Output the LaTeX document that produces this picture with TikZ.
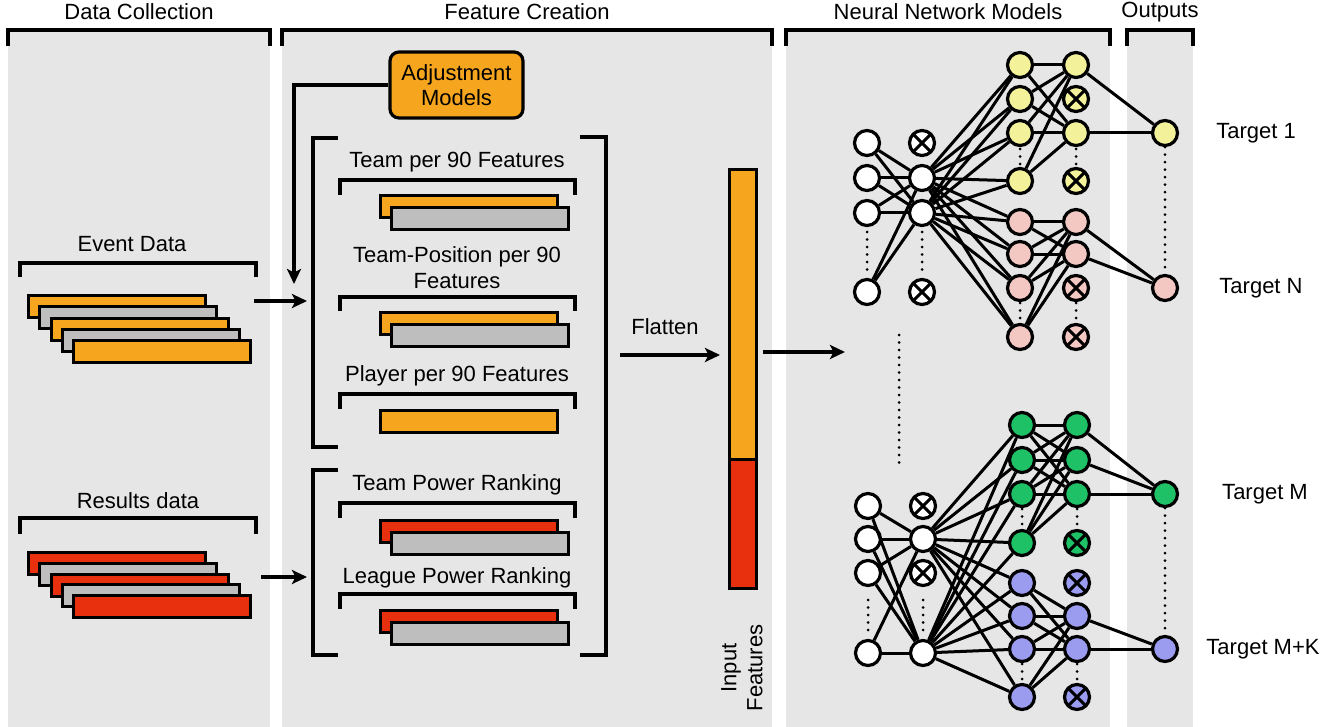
\documentclass[tikz,border=0pt]{standalone}
\usepackage{fontspec}
\setmainfont{Liberation Sans}
\usetikzlibrary{arrows.meta}
\definecolor{panel}{HTML}{E6E6E6}
\definecolor{org}{HTML}{F6A61E}
\definecolor{rd}{HTML}{E8300E}
\definecolor{gbar}{HTML}{BEBEBE}
\definecolor{yel}{HTML}{F3F29A}
\definecolor{pnk}{HTML}{F3C8C3}
\definecolor{grn}{HTML}{1EC166}
\definecolor{blu}{HTML}{9B9BF0}
\begin{document}
\begin{tikzpicture}[x=1pt,y=-1pt,font=\fontsize{22}{26}\selectfont,
  lbl/.style={inner sep=0pt,anchor=center,align=center},
  brk/.style={line width=3.6pt},
  barbox/.style={draw=black,line width=3.2pt,anchor=north west,inner sep=0pt,minimum height=22pt},
  arr/.style={line width=3.2pt,-{Stealth[length=15pt,width=14pt,inset=3.5pt]}},
  conn/.style={line width=3pt},
  neuron/.style={circle,draw=black,line width=3.2pt,minimum size=25pt,inner sep=0pt,fill=white},
  drop/.style={neuron,path picture={
     \draw[line width=3pt] (path picture bounding box.north west)--(path picture bounding box.south east);
     \draw[line width=3pt] (path picture bounding box.north east)--(path picture bounding box.south west);}},
  dots/.style={line width=3pt,dash pattern=on 0pt off 7.5pt,line cap=round}
]
\useasboundingbox (0,0) rectangle (1329,727);
\fill[white] (0,0) rectangle (1329,727);
% panels
\fill[panel] (8,31) rectangle (270,727);
\fill[panel] (282,31) rectangle (772,727);
\fill[panel] (786,31) rectangle (1110,727);
\fill[panel] (1127,31) rectangle (1193,727);
\draw[brk] (8,46) -- (8,30) -- (270,30) -- (270,46);
\draw[brk] (282,46) -- (282,30) -- (772,30) -- (772,46);
\draw[brk] (786,46) -- (786,30) -- (1110,30) -- (1110,46);
\draw[brk] (1127,46) -- (1127,30) -- (1193,30) -- (1193,46);
\node[lbl] (tDC) at (139,12) {Data Collection};
\node[lbl] (tFC) at (527,12) {Feature Creation};
\node[lbl] (tNN) at (948,12) {Neural Network Models};
\node[lbl] (tOut) at (1160,12) {Outputs};

% ---------------- Data collection
\node[lbl] (tEv) at (132,244) {Event Data};
\draw[brk] (20,277) -- (20,263) -- (256,263) -- (256,277);
\node[barbox,fill=org,minimum width=177pt] (e1) at (27,294) {};
\node[barbox,fill=gbar,minimum width=177pt] (e2) at (38.25,305.25) {};
\node[barbox,fill=org,minimum width=177pt] (e3) at (49.5,316.5) {};
\node[barbox,fill=gbar,minimum width=177pt] (e4) at (60.75,327.75) {};
\node[barbox,fill=org,minimum width=177pt] (e5) at (72,339) {};

\node[lbl] (tRes) at (138,501) {Results data};
\draw[brk] (20,534) -- (20,518) -- (256,518) -- (256,534);
\node[barbox,fill=rd,minimum width=177pt] (r1) at (27,551) {};
\node[barbox,fill=gbar,minimum width=177pt] (r2) at (38.25,561.75) {};
\node[barbox,fill=rd,minimum width=177pt] (r3) at (49.5,572.5) {};
\node[barbox,fill=gbar,minimum width=177pt] (r4) at (60.75,583.25) {};
\node[barbox,fill=rd,minimum width=177pt] (r5) at (72,594) {};

\coordinate (evout) at (254,301);
\coordinate (g1in) at (307,301);
\coordinate (resout) at (261,577);
\coordinate (g2in) at (307,577);
\draw[arr] (evout) -- (g1in);
\draw[arr] (resout) -- (g2in);

% ---------------- Feature creation
\node[draw=black,line width=3.2pt,fill=org,rounded corners=9pt,minimum width=133pt,minimum height=66pt,inner sep=0pt,align=center,font=\fontsize{22}{25}\selectfont] (adj) at (456.5,85) {Adjustment\\Models};
\coordinate (adjin) at (294,284);
\draw[arr] (adj.west) -| (adjin);

% group brackets
\draw[brk] (338,138) -- (313,138) -- (313,447) -- (338,447);
\draw[brk] (338,470) -- (313,470) -- (313,655) -- (338,655);
\draw[brk] (580,137) -- (606,137) -- (606,655) -- (580,655);

\node[lbl] (tT90) at (457,162) {Team per 90 Features};
\draw[brk] (340,195) -- (340,180) -- (575,180) -- (575,195);
\node[barbox,fill=org,minimum width=177pt] (f1a) at (379,194) {};
\node[barbox,fill=gbar,minimum width=177pt] (f1b) at (390,206) {};

\node[lbl] (tTP) at (457,268) {Team-Position per 90\\Features};
\draw[brk] (340,311) -- (340,297) -- (575,297) -- (575,311);
\node[barbox,fill=org,minimum width=177pt] (f2a) at (379,311) {};
\node[barbox,fill=gbar,minimum width=177pt] (f2b) at (390,322.5) {};

\node[lbl] (tP90) at (457,376) {Player per 90 Features};
\draw[brk] (340,409) -- (340,394) -- (575,394) -- (575,409);
\node[barbox,fill=org,minimum width=177pt] (f3a) at (379,408.5) {};

\node[lbl] (tTPR) at (457,485) {Team Power Ranking};
\draw[brk] (340,518) -- (340,503) -- (575,503) -- (575,518);
\node[barbox,fill=rd,minimum width=177pt] (f4a) at (379,519) {};
\node[barbox,fill=gbar,minimum width=177pt] (f4b) at (390,530.5) {};

\node[lbl] (tLPR) at (457,578) {League Power Ranking};
\draw[brk] (340,609) -- (340,594) -- (575,594) -- (575,609);
\node[barbox,fill=rd,minimum width=177pt] (f5a) at (379,609) {};
\node[barbox,fill=gbar,minimum width=177pt] (f5b) at (390,620.5) {};

% flatten
\node[lbl] (tFl) at (665,327) {Flatten};
\coordinate (flin) at (620,355);
\coordinate (flout) at (720,355);
\draw[arr] (flin) -- (flout);
\node[draw=black,line width=3.2pt,fill=org,anchor=north west,inner sep=0pt,minimum width=27pt,minimum height=290pt] (inf) at (728,168) {};
\node[draw=black,line width=3.2pt,fill=rd,anchor=north west,inner sep=0pt,minimum width=27pt,minimum height=129pt] (inr) at (728,458) {};
\node[lbl,rotate=90] (tIF) at (742,668) {Input\\Features};
\coordinate (nnout) at (763,352);
\coordinate (nnin) at (845,352);
\draw[arr] (nnout) -- (nnin);

% ---------------- Neural networks: top
\node[neuron] (ta1) at (867,143) {};
\node[neuron] (ta2) at (867,178) {};
\node[neuron] (ta3) at (867,213) {};
\node[neuron] (ta4) at (867,292) {};
\node[drop] (tb1) at (922,143) {};
\node[neuron] (tb2) at (922,178) {};
\node[neuron] (tb3) at (922,213) {};
\node[drop] (tb4) at (922,292) {};
\node[neuron,fill=yel] (tc1) at (1020,65) {};
\node[neuron,fill=yel] (tc2) at (1020,99) {};
\node[neuron,fill=yel] (tc3) at (1020,133) {};
\node[neuron,fill=yel] (tc4) at (1020,181) {};
\node[neuron,fill=pnk] (tc5) at (1020,222) {};
\node[neuron,fill=pnk] (tc6) at (1020,254) {};
\node[neuron,fill=pnk] (tc7) at (1020,288) {};
\node[neuron,fill=pnk] (tc8) at (1020,337) {};
\node[neuron,fill=yel] (td1) at (1076,65) {};
\node[drop,fill=yel] (td2) at (1076,99) {};
\node[neuron,fill=yel] (td3) at (1076,133) {};
\node[drop,fill=yel] (td4) at (1076,181) {};
\node[neuron,fill=pnk] (td5) at (1076,222) {};
\node[neuron,fill=pnk] (td6) at (1076,254) {};
\node[drop,fill=pnk] (td7) at (1076,288) {};
\node[drop,fill=pnk] (td8) at (1076,337) {};
\node[neuron,fill=yel] (o1) at (1165,133) {};
\node[neuron,fill=pnk] (oN) at (1165,288) {};

\foreach \a in {ta1,ta2,ta3,ta4} \foreach \b in {tb2,tb3} \draw[conn] (\a) -- (\b);
\foreach \a in {tb2,tb3} \foreach \b in {tc1,tc2,tc3,tc4,tc5,tc6,tc7,tc8} \draw[conn] (\a) -- (\b);
\foreach \a in {tc1,tc2,tc3,tc4} \foreach \b in {td1,td3} \draw[conn] (\a) -- (\b);
\foreach \a in {tc5,tc6,tc7,tc8} \foreach \b in {td5,td6} \draw[conn] (\a) -- (\b);
\foreach \a in {td1,td3} \draw[conn] (\a) -- (o1);
\foreach \a in {td5,td6} \draw[conn] (\a) -- (oN);

% ---------------- Neural networks: bottom
\node[neuron] (ba1) at (868,506) {};
\node[neuron] (ba2) at (868,539) {};
\node[neuron] (ba3) at (868,573) {};
\node[neuron] (ba4) at (868,653) {};
\node[drop] (bb1) at (923,506) {};
\node[neuron] (bb2) at (923,539) {};
\node[drop] (bb3) at (923,573) {};
\node[neuron] (bb4) at (923,653) {};
\node[neuron,fill=grn] (bc1) at (1022,425) {};
\node[neuron,fill=grn] (bc2) at (1022,460) {};
\node[neuron,fill=grn] (bc3) at (1022,494) {};
\node[neuron,fill=grn] (bc4) at (1022,543) {};
\node[neuron,fill=blu] (bc5) at (1022,583) {};
\node[neuron,fill=blu] (bc6) at (1022,616) {};
\node[neuron,fill=blu] (bc7) at (1022,649) {};
\node[neuron,fill=blu] (bc8) at (1022,697) {};
\node[neuron,fill=grn] (bd1) at (1077,425) {};
\node[neuron,fill=grn] (bd2) at (1077,460) {};
\node[neuron,fill=grn] (bd3) at (1077,494) {};
\node[drop,fill=grn] (bd4) at (1077,543) {};
\node[drop,fill=blu] (bd5) at (1077,583) {};
\node[neuron,fill=blu] (bd6) at (1077,616) {};
\node[neuron,fill=blu] (bd7) at (1077,649) {};
\node[drop,fill=blu] (bd8) at (1077,697) {};
\node[neuron,fill=grn] (oM) at (1165,494) {};
\node[neuron,fill=blu] (oMK) at (1165,649) {};

\foreach \a in {ba1,ba2,ba3,ba4} \foreach \b in {bb2,bb4} \draw[conn] (\a) -- (\b);
\foreach \a in {bb2,bb4} \foreach \b in {bc1,bc2,bc3,bc4,bc5,bc6,bc7,bc8} \draw[conn] (\a) -- (\b);
\foreach \a in {bc1,bc2,bc3,bc4} \foreach \b in {bd1,bd2,bd3} \draw[conn] (\a) -- (\b);
\foreach \a in {bc5,bc6,bc7,bc8} \foreach \b in {bd6,bd7} \draw[conn] (\a) -- (\b);
\foreach \a in {bd1,bd2,bd3} \draw[conn] (\a) -- (oM);
\foreach \a in {bd6,bd7} \draw[conn] (\a) -- (oMK);

% dotted ellipses
\draw[dots] (867,232) -- (867,275);
\draw[dots] (922,232) -- (922,275);
\draw[dots] (1020,149) -- (1020,166);
\draw[dots] (1076,149) -- (1076,166);
\draw[dots] (1020,303) -- (1020,322);
\draw[dots] (1076,303) -- (1076,322);
\draw[dots] (868,600) -- (868,632);
\draw[dots] (923,600) -- (923,632);
\draw[dots] (1022,509) -- (1022,528);
\draw[dots] (1077,509) -- (1077,528);
\draw[dots] (1022,664) -- (1022,682);
\draw[dots] (1077,664) -- (1077,682);
\draw[dots] (899,335) -- (899,466);
\draw[dots] (o1) -- (oN);
\draw[dots] (oM) -- (oMK);

% targets
\node[lbl] (tg1) at (1256,133) {Target 1};
\node[lbl] (tgN) at (1261,288) {Target N};
\node[lbl] (tgM) at (1265,494) {Target M};
\node[lbl] (tgMK) at (1263,649) {Target M+K};
\end{tikzpicture}
\end{document}
